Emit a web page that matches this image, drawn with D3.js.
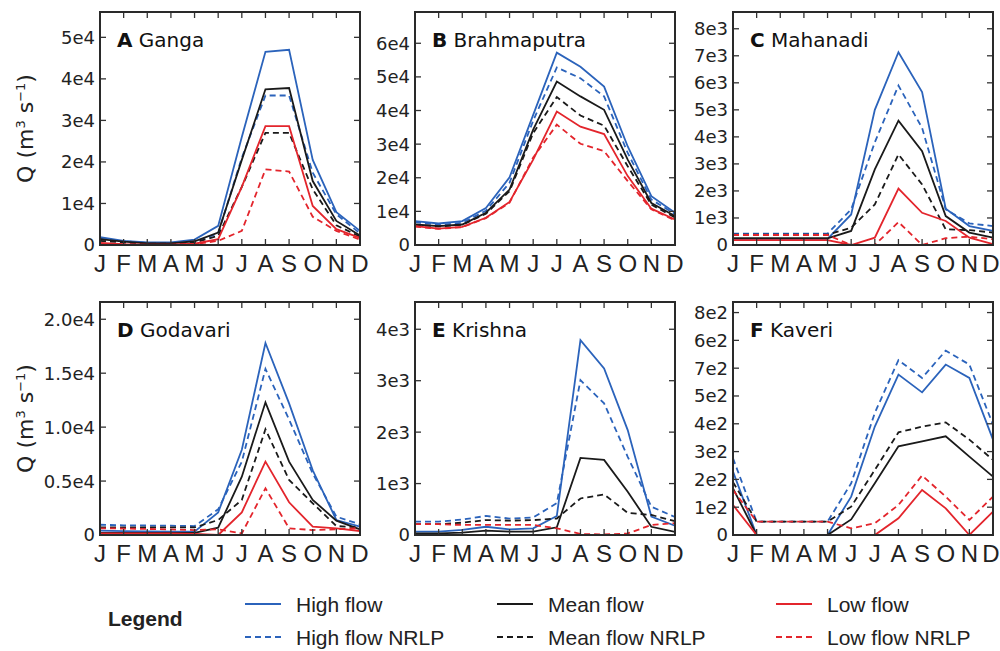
<!DOCTYPE html>
<html>
<head>
<meta charset="utf-8">
<script src="https://cdn.jsdelivr.net/npm/d3@7"></script>
<style>
  body { margin: 0; background: #fff; }
  .tick-label { font-family: "DejaVu Sans", sans-serif; font-size: 18px; fill: #222; }
  .month { font-family: "Liberation Sans", Arial, sans-serif; font-size: 24px; fill: #222; }
  .title { font-family: "DejaVu Sans", sans-serif; font-size: 20px; fill: #111; }
  .ylab { font-family: "DejaVu Sans", sans-serif; font-size: 22px; fill: #222; }
  .legend { font-family: "Liberation Sans", Arial, sans-serif; font-size: 21px; fill: #222; }
</style>
</head>
<body>
<svg id="chart" width="1000" height="651"></svg>
<script>
const months = ["J", "F", "M", "A", "M", "J", "J", "A", "S", "O", "N", "D"]

// A Ganga
const gangaHigh = [1900, 1000, 650, 650, 1300, 4600, 26000, 46500, 47000, 20500, 7900, 3400]
const gangaHighNRLP = [1500, 900, 500, 400, 700, 2800, 21000, 36000, 36000, 17400, 7400, 2800]
const gangaMean = [1400, 800, 400, 400, 900, 3000, 20500, 37500, 37800, 15400, 5800, 2300]
const gangaMeanNRLP = [1000, 600, 300, 300, 600, 2200, 14000, 27000, 27000, 13400, 4750, 2000]
const gangaLow = [500, 200, 100, 100, 300, 1400, 14000, 28600, 28600, 9400, 3800, 1700]
const gangaLowNRLP = [300, 100, 0, 0, 200, 1000, 3400, 18200, 17700, 6800, 3400, 1300]

// B Brahmaputra
const brahmaHigh = [7100, 6400, 7100, 11000, 20100, 38700, 57200, 53000, 47100, 29300, 14500, 9600]
const brahmaHighNRLP = [6800, 6000, 6600, 10200, 18500, 37000, 52800, 49600, 44200, 27400, 13500, 9200]
const brahmaMean = [6100, 5600, 6100, 9600, 16500, 34300, 48600, 44200, 40200, 25400, 12500, 8600]
const brahmaMeanNRLP = [6000, 5500, 6000, 9300, 16000, 33300, 44000, 38500, 35500, 23400, 12000, 8200]
const brahmaLow = [5600, 4900, 5400, 8100, 12800, 25400, 39700, 35200, 33000, 20500, 10800, 7600]
const brahmaLowNRLP = [5500, 4800, 5300, 8000, 12600, 26000, 35800, 30100, 27900, 19000, 10600, 7300]

// C Mahanadi
const mahaHigh = [230, 230, 230, 230, 230, 1130, 5000, 7130, 5660, 1340, 700, 520]
const mahaHighNRLP = [420, 420, 420, 420, 420, 1320, 3800, 5900, 4330, 1320, 800, 700]
const mahaMean = [250, 250, 250, 250, 250, 520, 2800, 4600, 3470, 1070, 460, 270]
const mahaMeanNRLP = [380, 380, 380, 380, 380, 640, 1500, 3350, 2240, 580, 550, 460]
const mahaLow = [180, 180, 180, 180, 180, 0, 270, 2090, 1190, 890, 270, 30]
const mahaLowNRLP = [370, 370, 370, 370, 370, 0, 0, 850, 0, 250, 310, 210]

// D Godavari
const godaHigh = [400, 350, 330, 320, 310, 2100, 7900, 17800, 12200, 6000, 1390, 770]
const godaHighNRLP = [950, 900, 880, 860, 830, 2380, 6800, 15400, 10700, 5700, 1700, 990]
const godaMean = [190, 190, 190, 190, 190, 680, 5400, 12300, 6800, 3250, 1330, 530]
const godaMeanNRLP = [700, 700, 700, 700, 700, 1390, 3250, 9800, 5100, 2940, 830, 700]
const godaLow = [150, 150, 150, 150, 100, 0, 2100, 6800, 3030, 770, 620, 370]
const godaLowNRLP = [620, 600, 560, 520, 460, 530, 150, 4330, 620, 460, 530, 650]

// E Krishna
const krishHigh = [65, 65, 100, 160, 110, 130, 370, 3790, 3240, 2040, 360, 180]
const krishHighNRLP = [260, 260, 300, 370, 320, 340, 620, 3010, 2560, 1520, 550, 350]
const krishMean = [30, 30, 45, 85, 65, 65, 150, 1500, 1460, 840, 160, 60]
const krishMeanNRLP = [210, 210, 240, 290, 280, 290, 320, 710, 790, 430, 390, 270]
const krishLow = [0, 0, 0, 0, 0, 0, 0, 0, 0, 0, 0, 0]
const krishLowNRLP = [210, 210, 195, 195, 195, 195, 130, 20, 10, 30, 195, 230]

// F Kaveri
const kaveHigh = [228, 0, 0, 0, 0, 138, 390, 577, 513, 613, 565, 343]
const kaveHighNRLP = [276, 48, 48, 48, 48, 186, 439, 629, 565, 663, 613, 397]
const kaveMean = [168, 0, 0, 0, 0, 56, 186, 319, 337, 355, 282, 210]
const kaveMeanNRLP = [190, 48, 48, 48, 48, 102, 234, 369, 390, 405, 343, 270]
const kaveLow = [108, 0, 0, 0, 0, 0, 0, 60, 162, 96, 0, 84]
const kaveLowNRLP = [162, 48, 48, 48, 48, 24, 42, 108, 214, 138, 54, 138]

// tick values and labels
const ticksA = [0, 10000, 20000, 30000, 40000, 50000]
const labelsA = ["0", "1e4", "2e4", "3e4", "4e4", "5e4"]
const ticksB = [0, 10000, 20000, 30000, 40000, 50000, 60000]
const labelsB = ["0", "1e4", "2e4", "3e4", "4e4", "5e4", "6e4"]
const ticksC = [0, 1000, 2000, 3000, 4000, 5000, 6000, 7000, 8000]
const labelsC = ["0", "1e3", "2e3", "3e3", "4e3", "5e3", "6e3", "7e3", "8e3"]
const ticksD = [0, 5000, 10000, 15000, 20000]
const labelsD = ["0", "0.5e4", "1.0e4", "1.5e4", "2.0e4"]
const ticksE = [0, 1000, 2000, 3000, 4000]
const labelsE = ["0", "1e3", "2e3", "3e3", "4e3"]
const ticksF = [0, 100, 200, 300, 400, 500, 600, 700, 800]
const labelsF = ["0", "1e2", "2e2", "3e2", "4e2", "5e2", "7e2", "6e2", "8e2"]

const seriesNames = ["High flow", "High flow NRLP", "Mean flow", "Mean flow NRLP", "Low flow", "Low flow NRLP"]
const seriesColors = ["#2b63bb", "#2b63bb", "#1a1a1a", "#1a1a1a", "#e3252c", "#e3252c"]
const seriesDashed = [false, true, false, true, false, true]

const panels = [
  { letter: "A", name: "Ganga", max: 56100, ticks: ticksA, labels: labelsA, x: 100, y: 12,
    series: [gangaHigh, gangaHighNRLP, gangaMean, gangaMeanNRLP, gangaLow, gangaLowNRLP] },
  { letter: "B", name: "Brahmaputra", max: 69300, ticks: ticksB, labels: labelsB, x: 415, y: 12,
    series: [brahmaHigh, brahmaHighNRLP, brahmaMean, brahmaMeanNRLP, brahmaLow, brahmaLowNRLP] },
  { letter: "C", name: "Mahanadi", max: 8620, ticks: ticksC, labels: labelsC, x: 733, y: 12,
    series: [mahaHigh, mahaHighNRLP, mahaMean, mahaMeanNRLP, mahaLow, mahaLowNRLP] },
  { letter: "D", name: "Godavari", max: 21600, ticks: ticksD, labels: labelsD, x: 100, y: 302,
    series: [godaHigh, godaHighNRLP, godaMean, godaMeanNRLP, godaLow, godaLowNRLP] },
  { letter: "E", name: "Krishna", max: 4530, ticks: ticksE, labels: labelsE, x: 415, y: 302,
    series: [krishHigh, krishHighNRLP, krishMean, krishMeanNRLP, krishLow, krishLowNRLP] },
  { letter: "F", name: "Kaveri", max: 838, ticks: ticksF, labels: labelsF, x: 733, y: 302,
    series: [kaveHigh, kaveHighNRLP, kaveMean, kaveMeanNRLP, kaveLow, kaveLowNRLP] }
]

const pw = 260, ph = 233, tickLen = 6

const svg = d3.select("#chart")

panels.forEach((p, pi) => {
  const g = svg.append("g").attr("transform", `translate(${p.x},${p.y})`)
  const x = d3.scaleLinear().domain([0, 11]).range([0, pw])
  const y = d3.scaleLinear().domain([0, p.max]).range([ph, 0])

  // lines
  const line = d3.line().x((d, i) => x(i)).y(d => y(d))
  p.series.forEach((s, si) => {
    g.append("path")
      .datum(s)
      .attr("fill", "none")
      .attr("stroke", seriesColors[si])
      .attr("stroke-width", 1.8)
      .attr("stroke-dasharray", seriesDashed[si] ? "6,4" : null)
      .attr("d", line)
  })

  // inward ticks on all sides
  const tk = g.append("g").attr("stroke", "#333").attr("stroke-width", 1.3)
  months.forEach((m, i) => {
    tk.append("line").attr("x1", x(i)).attr("x2", x(i)).attr("y1", ph).attr("y2", ph - tickLen)
    tk.append("line").attr("x1", x(i)).attr("x2", x(i)).attr("y1", 0).attr("y2", tickLen)
  })
  p.ticks.forEach(t => {
    tk.append("line").attr("x1", 0).attr("x2", tickLen).attr("y1", y(t)).attr("y2", y(t))
    tk.append("line").attr("x1", pw).attr("x2", pw - tickLen).attr("y1", y(t)).attr("y2", y(t))
  })

  // frame
  g.append("rect")
    .attr("width", pw).attr("height", ph)
    .attr("fill", "none").attr("stroke", "#2a2a2a").attr("stroke-width", 2)

  // y tick labels
  g.selectAll(".tick-label")
    .data(p.ticks)
    .enter()
    .append("text")
    .attr("class", "tick-label")
    .attr("x", -5)
    .attr("y", d => y(d))
    .attr("dy", "0.36em")
    .attr("text-anchor", "end")
    .text((d, i) => p.labels[i])

  // month labels (keep the last one inside the page)
  g.selectAll(".month")
    .data(months)
    .enter()
    .append("text")
    .attr("class", "month")
    .attr("x", (d, i) => Math.min(x(i), 999 - p.x - 8))
    .attr("y", ph + 27)
    .attr("text-anchor", "middle")
    .text(d => d)

  // title
  const title = g.append("text").attr("class", "title").attr("x", 17).attr("y", 35)
  title.append("tspan").attr("font-weight", "bold").text(p.letter)
  title.append("tspan").text(" " + p.name)

  // y axis label
  if (pi % 3 === 0) {
    const yl = svg.append("text")
      .attr("class", "ylab")
      .attr("transform", `translate(33,${p.y + ph / 2}) rotate(-90)`)
      .attr("text-anchor", "middle")
    yl.append("tspan").text("Q (m")
    yl.append("tspan").attr("font-size", "13px").attr("dy", "-8").text("3")
    yl.append("tspan").attr("dy", "8").text(" s")
    yl.append("tspan").attr("font-size", "13px").attr("dy", "-8").text("\u22121")
    yl.append("tspan").attr("dy", "8").text(")")
  }
})

// legend
svg.append("text")
  .attr("class", "legend")
  .attr("x", 108).attr("y", 626)
  .attr("font-weight", "bold")
  .text("Legend")

const legendCols = [245, 497, 776]
const legendRows = [604, 637]
seriesNames.forEach((name, i) => {
  const cx = legendCols[Math.floor(i / 2)]
  const cy = legendRows[i % 2]
  svg.append("line")
    .attr("x1", cx).attr("x2", cx + 36)
    .attr("y1", cy).attr("y2", cy)
    .attr("stroke", seriesColors[i])
    .attr("stroke-width", 1.8)
    .attr("stroke-dasharray", seriesDashed[i] ? "6,4" : null)
  svg.append("text")
    .attr("class", "legend")
    .attr("x", cx + 51).attr("y", cy + 7.5)
    .text(name)
})
</script>
</body>
</html>
